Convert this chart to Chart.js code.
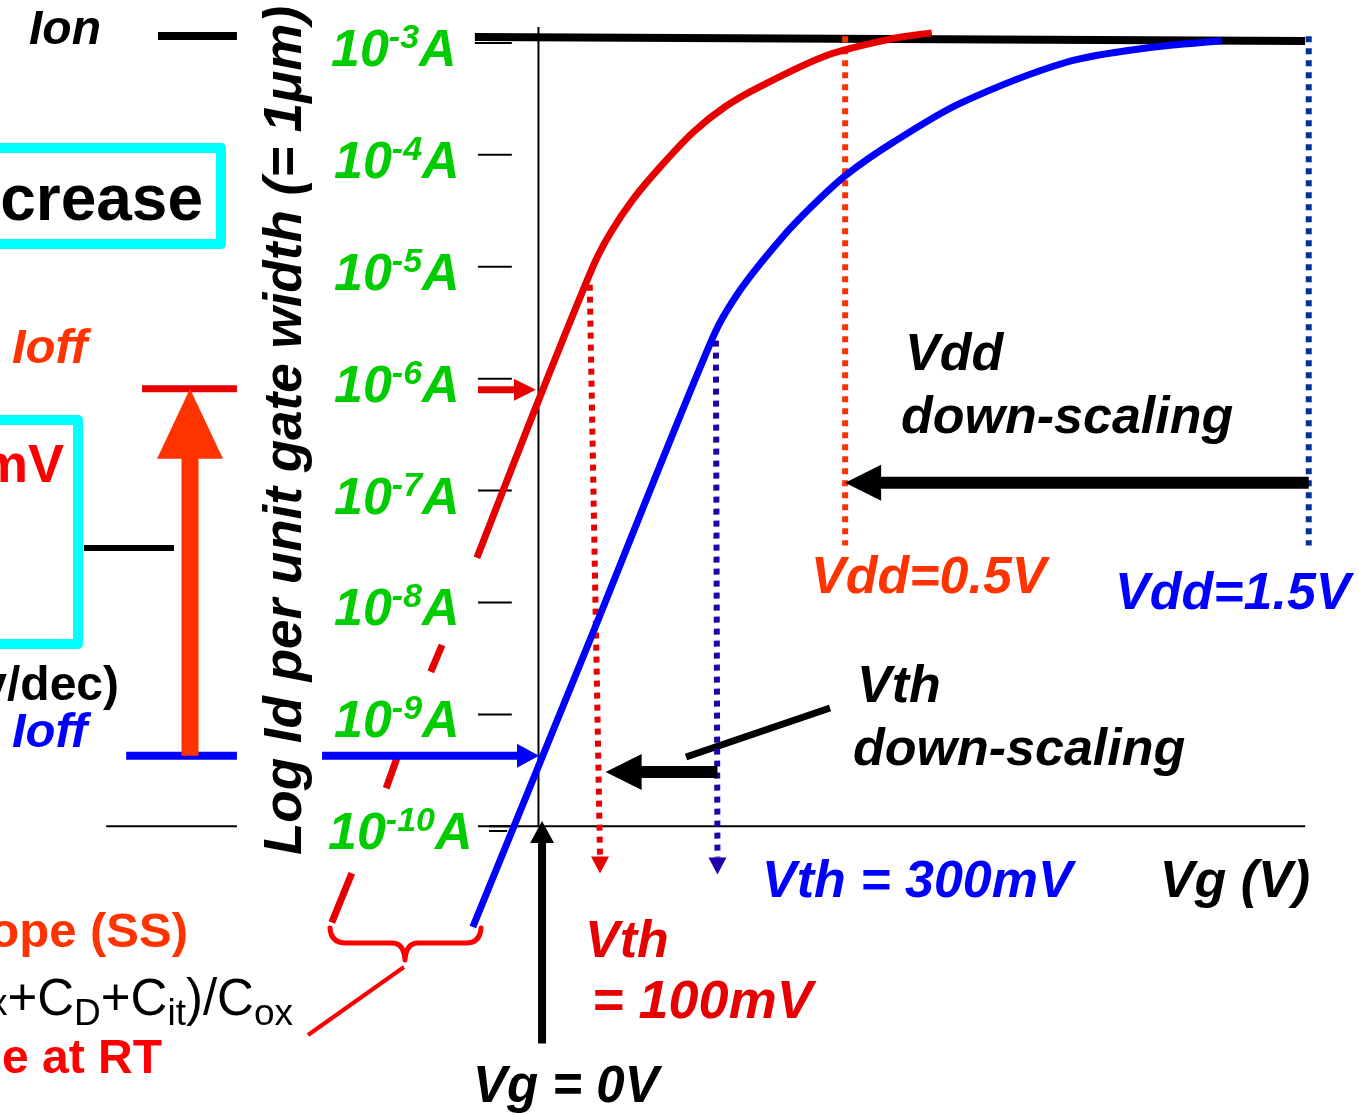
<!DOCTYPE html>
<html>
<head>
<meta charset="utf-8">
<script src="https://cdn.jsdelivr.net/npm/chart.js@4.4.0/dist/chart.umd.min.js"></script>
<style>
  body { margin: 0; background: #fff; }
  #wrap { width: 1359px; height: 1115px; position: relative; }
</style>
</head>
<body>
<div id="wrap"><canvas id="iv"></canvas></div>
<script>
// x = gate voltage Vg (V), y = log10 of drain current per um of gate width (A)
const tickExp = [-3, -4, -5, -6, -7, -8, -9, -10];

// low-Vth device (red)
const redVg   = [-0.12, -0.01, 0.106, 0.140, 0.184, 0.237, 0.301, 0.364, 0.432, 0.563, 0.691, 0.767];
const redLogI = [-7.60, -6.31, -5.00, -4.70, -4.40, -4.11, -3.80, -3.57, -3.39, -3.11, -2.96, -2.91];
// dashed extension of its subthreshold slope (null = gap)
const redTailVg   = [-0.188, -0.210, null, -0.276, -0.297, null, -0.364, -0.403];
const redTailLogI = [-8.38, -8.62, null, -9.39, -9.66, null, -10.42, -10.86];

// high-Vth device (blue)
const blueVg   = [-0.128, 0.100, 0.340, 0.393, 0.471, 0.533, 0.600, 0.691, 0.822, 1.031, 1.193, 1.333];
const blueLogI = [-10.90, -8.34, -5.63, -5.21, -4.76, -4.46, -4.18, -3.89, -3.54, -3.17, -3.04, -2.98];

// Ion level
const ionVg   = [-0.124, 1.495];
const ionLogI = [-2.947, -2.982];

// Ioff levels at Vg = 0
const ioffRed  = -6.09;
const ioffBlue = -9.37;

// Vth and Vdd markers
const vthRedVg    = [0.100, 0.120];
const vthRedLogI  = [-5.16, -10.27];
const vthBlueVg   = [0.346, 0.349];
const vthBlueLogI = [-5.66, -10.28];
const vddLowVg  = 0.598;
const vddHighVg = 1.502;
const vddLogI   = [-2.94, -7.49];

// arrows: [x1, y1, x2(tip), y2(tip)]
const vddArrow  = [1.502, -6.93, 0.598, -6.93];
const vthArrow  = [0.349, -9.515, 0.131, -9.515];
const vg0Arrow  = [0.007, -11.94, 0.007, -9.953];
const offRedArr = [-0.118, ioffRed - 0.01, -0.005, ioffRed - 0.01];
const offBlueArr = [-0.422, ioffBlue, 0.001, ioffBlue];
const ssPointer = [0.2877, -9.381, 0.5685, -8.943];

const F = '"Liberation Sans", Arial, Helvetica, sans-serif';
function font(size, style) { return (style || '') + ' ' + size + 'px ' + F; }

function pts(xs, ys) { return xs.map((x, i) => ({ x: x, y: ys[i] })); }
function splitRuns(xs, ys) {
  const out = []; let cur = [];
  xs.forEach((x, i) => {
    if (x === null) { if (cur.length) out.push(cur); cur = []; }
    else cur.push({ x: x, y: ys[i] });
  });
  if (cur.length) out.push(cur);
  return out;
}
function ds(data, color, width, extra) {
  return Object.assign({ data: data, borderColor: color, borderWidth: width, pointRadius: 0,
    fill: false, tension: 0, borderCapStyle: 'butt' }, extra || {});
}

const datasets = [];
datasets.push(ds(pts(redVg, redLogI), '#e60000', 7, { tension: 0.3 }));
datasets.push(ds(pts(blueVg, blueLogI), '#0000ff', 7, { tension: 0.3 }));
splitRuns(redTailVg, redTailLogI).forEach(r => datasets.push(ds(r, '#e60000', 7)));
datasets.push(ds(pts(vthRedVg, vthRedLogI), '#e60000', 6, { borderDash: [6, 6] }));
datasets.push(ds(pts(vthBlueVg, vthBlueLogI), '#2200aa', 6, { borderDash: [6, 6] }));
datasets.push(ds(pts([vddLowVg, vddLowVg], vddLogI), '#ff3300', 6, { borderDash: [6, 6] }));
datasets.push(ds(pts([vddHighVg, vddHighVg], vddLogI), '#003399', 6, { borderDash: [6, 6] }));
datasets.push(ds(pts(ionVg, ionLogI), '#000', 8));
datasets.push(ds(pts([-0.742, -0.588], [-2.938, -2.938]), '#000', 8));
datasets.push(ds(pts([-0.773, -0.588], [ioffRed, ioffRed]), '#e60000', 7));
datasets.push(ds(pts([-0.804, -0.588], [ioffBlue, ioffBlue]), '#0000ff', 8));
datasets.push(ds(pts([-0.843, -0.588], [-10, -10]), '#000', 2));
datasets.push(ds(pts([-0.0965, 1.495], [-10, -10]), '#000', 2));
datasets.push(ds(pts([-0.0965, -0.061], [-10.042, -10.042]), '#000', 2));
datasets.push(ds(pts([0, 0], [-2.857, -10]), '#000', 2));
tickExp.forEach(e => datasets.push(ds(pts([e === -3 ? -0.124 : -0.118, -0.052], [e, e]), '#000', 2)));
datasets.push(ds(pts([ssPointer[0], ssPointer[2]], [ssPointer[1], ssPointer[3]]), '#000', 7));

function arrow(ctx, x1, y1, x2, y2, shaft, headLen, headHalf, color) {
  const a = Math.atan2(y2 - y1, x2 - x1);
  const bx = x2 - Math.cos(a) * headLen, by = y2 - Math.sin(a) * headLen;
  ctx.save();
  ctx.strokeStyle = color; ctx.fillStyle = color; ctx.lineWidth = shaft; ctx.lineCap = 'butt';
  ctx.beginPath(); ctx.moveTo(x1, y1); ctx.lineTo(bx + Math.cos(a), by + Math.sin(a)); ctx.stroke();
  ctx.beginPath();
  ctx.moveTo(x2, y2);
  ctx.lineTo(bx - Math.sin(a) * headHalf, by + Math.cos(a) * headHalf);
  ctx.lineTo(bx + Math.sin(a) * headHalf, by - Math.cos(a) * headHalf);
  ctx.closePath(); ctx.fill();
  ctx.restore();
}

function runs(ctx, x, y, parts, align, color) {
  ctx.fillStyle = color;
  ctx.textAlign = 'left';
  ctx.textBaseline = 'alphabetic';
  let w = 0;
  parts.forEach(p => { ctx.font = p[1]; w += ctx.measureText(p[0]).width; });
  let cx = align === 'right' ? x - w : x;
  parts.forEach(p => {
    ctx.font = p[1];
    ctx.fillText(p[0], cx, y + (p[2] || 0));
    cx += ctx.measureText(p[0]).width;
  });
}
function txt(ctx, s, x, y, size, style, color, align) {
  runs(ctx, x, y, [[s, font(size, style)]], align, color);
}

const decor = {
  id: 'decor',
  afterDatasetsDraw(chart) {
    const ctx = chart.ctx;
    const X = v => chart.scales.x.getPixelForValue(v);
    const Y = v => chart.scales.y.getPixelForValue(v);
    const BI = 'italic bold', B = 'bold';

    // arrows tied to values
    arrow(ctx, X(vddArrow[0]), Y(vddArrow[1]), X(vddArrow[2]), Y(vddArrow[3]), 12, 36, 18, '#000');
    arrow(ctx, X(vthArrow[0]), Y(vthArrow[1]), X(vthArrow[2]), Y(vthArrow[3]), 12, 36, 18, '#000');
    arrow(ctx, X(vg0Arrow[0]), Y(vg0Arrow[1]), X(vg0Arrow[2]), Y(vg0Arrow[3]), 8, 22, 12, '#000');
    arrow(ctx, X(offRedArr[0]), Y(offRedArr[1]), X(offRedArr[2]), Y(offRedArr[3]), 7, 22, 11, '#e60000');
    arrow(ctx, X(offBlueArr[0]), Y(offBlueArr[1]), X(offBlueArr[2]), Y(offBlueArr[3]), 8, 22, 12, '#0000ff');
    arrow(ctx, X(-0.6795), Y(ioffBlue), X(-0.6795), Y(ioffRed), 17, 70, 33, '#ff3300');
    // arrowheads on the Vth dotted lines
    let tx = X(vthRedVg[1]), ty = Y(vthRedLogI[1]);
    arrow(ctx, tx, ty - 2, tx, ty + 17, 0.1, 17, 9, '#e60000');
    tx = X(vthBlueVg[1]); ty = Y(vthBlueLogI[1]);
    arrow(ctx, tx, ty - 2, tx, ty + 17, 0.1, 17, 9, '#2200aa');

    // cyan boxes (cut at the left edge)
    ctx.save();
    ctx.strokeStyle = '#00ffff'; ctx.lineWidth = 10; ctx.lineJoin = 'round';
    ctx.strokeRect(-20, 148, 241, 96);
    ctx.strokeRect(-20, 420, 98, 224);
    ctx.strokeStyle = '#000'; ctx.lineWidth = 6;
    ctx.beginPath(); ctx.moveTo(84, 548); ctx.lineTo(174, 548); ctx.stroke();
    // brace
    ctx.strokeStyle = '#ff0000'; ctx.lineWidth = 5; ctx.lineCap = 'round';
    ctx.beginPath();
    ctx.moveTo(330, 928);
    ctx.quadraticCurveTo(331, 943, 346, 943);
    ctx.lineTo(392, 943);
    ctx.quadraticCurveTo(404, 943, 405, 960);
    ctx.quadraticCurveTo(406, 943, 418, 943);
    ctx.lineTo(466, 943);
    ctx.quadraticCurveTo(480, 943, 481, 928);
    ctx.stroke();
    ctx.lineWidth = 4; ctx.lineCap = 'butt';
    ctx.beginPath(); ctx.moveTo(404, 967); ctx.lineTo(308, 1035); ctx.stroke();
    ctx.restore();

    // y tick labels
    tickExp.forEach(e => {
      runs(ctx, e === -10 ? 328 : e === -3 ? 331 : 334, Y(e) + 23, [
        ['10', font(52, BI)],
        [String(e), font(34, BI), -18],
        ['A', font(52, BI)]
      ], 'left', '#00cc00');
    });

    // y axis title
    ctx.save();
    ctx.translate(301, 855);
    ctx.rotate(-Math.PI / 2);
    txt(ctx, 'Log Id per unit gate width (= 1\u03bcm)', 0, 0, 53, BI, '#000', 'left');
    ctx.restore();

    // left panel
    txt(ctx, 'Ion', 29, 44, 48, BI, '#000', 'left');
    txt(ctx, 'crease', 203, 220, 64, B, '#000', 'right');
    txt(ctx, 'Ioff', 12, 363, 49, BI, '#ff3300', 'left');
    txt(ctx, 'mV', 64, 482, 54, B, '#ff0000', 'right');
    txt(ctx, 'v/dec)', 119, 700, 48, B, '#000', 'right');
    txt(ctx, 'Ioff', 12, 747, 49, BI, '#0000ff', 'left');
    txt(ctx, 'ope (SS)', 188, 947, 49, B, '#ff3300', 'right');
    runs(ctx, 293, 1015, [
      ['x', font(37)], ['+C', font(51)], ['D', font(37), 10], ['+C', font(51)],
      ['it', font(37), 10], [')/C', font(51)], ['ox', font(37), 10]
    ], 'right', '#000');
    txt(ctx, 'e at RT', 162, 1073, 48, B, '#ff0000', 'right');

    // plot annotations
    txt(ctx, 'Vdd', 905, 370, 52, BI, '#000', 'left');
    txt(ctx, 'down-scaling', 901, 433, 52, BI, '#000', 'left');
    txt(ctx, 'Vdd=0.5V', 811, 593, 52, BI, '#ff3300', 'left');
    txt(ctx, 'Vdd=1.5V', 1115, 609, 52, BI, '#0000ff', 'left');
    txt(ctx, 'Vth', 857, 702, 52, BI, '#000', 'left');
    txt(ctx, 'down-scaling', 853, 765, 52, BI, '#000', 'left');
    txt(ctx, 'Vth = 300mV', 762, 897, 52, BI, '#0000ff', 'left');
    txt(ctx, 'Vg (V)', 1310, 897, 52, BI, '#000', 'right');
    txt(ctx, 'Vth', 585, 957, 52, BI, '#e60000', 'left');
    txt(ctx, '= 100mV', 592, 1018, 54, BI, '#e60000', 'left');
    txt(ctx, 'Vg = 0V', 473, 1102, 51, BI, '#000', 'left');
  }
};

new Chart(document.getElementById('iv'), {
  type: 'line',
  data: { datasets: datasets },
  options: {
    responsive: true,
    maintainAspectRatio: false,
    devicePixelRatio: 1,
    animation: false,
    layout: { padding: 0 },
    plugins: { legend: { display: false }, tooltip: { enabled: false } },
    scales: {
      x: { type: 'linear', min: -1.05, max: 1.6, display: false },
      y: { type: 'linear', min: -12.58, max: -2.616, display: false }
    }
  },
  plugins: [decor]
});
</script>
</body>
</html>
